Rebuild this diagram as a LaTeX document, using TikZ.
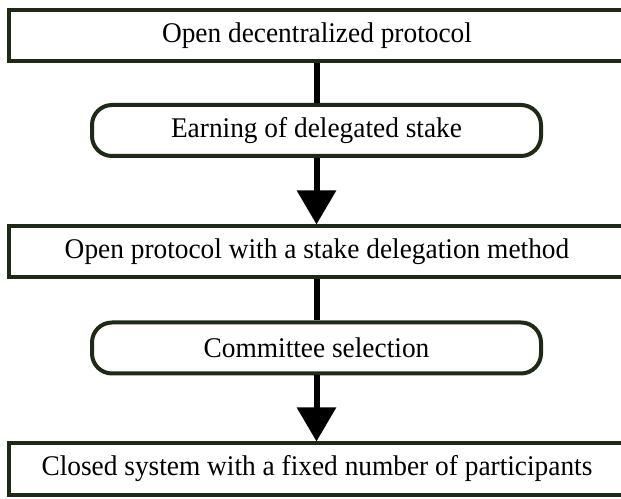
\documentclass[tikz,border=0pt]{standalone}
\usepackage{fontspec}
\setmainfont[FakeStretch=0.96]{Liberation Serif}
\usetikzlibrary{arrows.meta}
\definecolor{edge}{HTML}{1E2A14}
\begin{document}
\begin{tikzpicture}[x=1pt,y=1pt,
  lbl/.style={font=\fontsize{28.5}{32}\selectfont},
  sqbox/.style={lbl,draw=edge,line width=4pt,minimum width=616pt,minimum height=51pt,inner sep=0pt},
  rndbox/.style={lbl,draw=edge,line width=4pt,rounded corners=20pt,minimum width=449pt,minimum height=51pt,inner sep=0pt},
  conn/.style={line width=6pt,black},
  arr/.style={conn,-{Triangle[width=38pt,length=34pt]}}]
\clip (0,0) rectangle (621,498);
\fill[white] (0,0) rectangle (621,498);
\node[sqbox]  (a) at (317,462.5) {Open decentralized protocol};
\node[rndbox] (b) at (316.5,367.5) {Earning of delegated stake};
\node[sqbox]  (c) at (317,246) {Open protocol with a stake delegation method};
\node[rndbox] (d) at (316.5,150) {Committee selection};
\node[sqbox]  (e) at (317,29) {Closed system with a fixed number of participants};
\draw[conn] (a.south) -- (a.south |- b.north);
\draw[arr] (b.south) -- (b.south |- c.north);
\draw[conn] (c.south) -- (c.south |- d.north);
\draw[arr] (d.south) -- (d.south |- e.north);
\end{tikzpicture}
\end{document}
